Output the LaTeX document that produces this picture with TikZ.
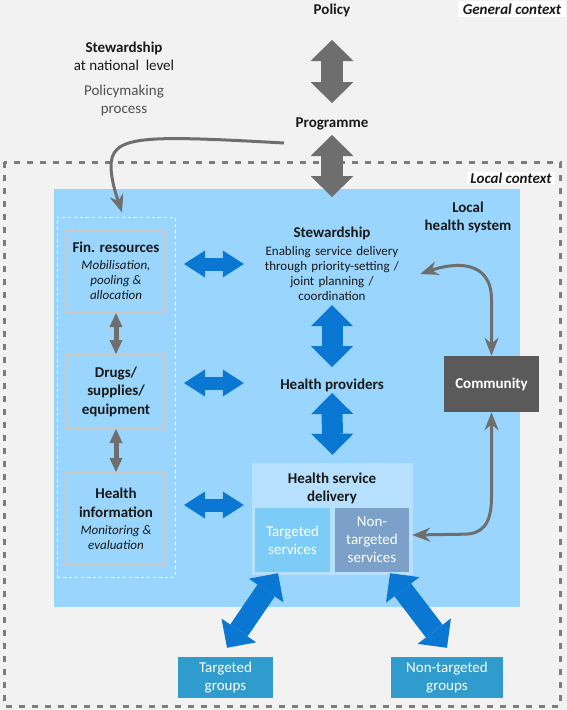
\documentclass[tikz,border=0pt]{standalone}
\usepackage{fontspec}
\setmainfont{Carlito}
\usetikzlibrary{arrows.meta,calc}
\definecolor{ctxgray}{RGB}{242,242,242}
\definecolor{dashgray}{RGB}{125,125,125}
\definecolor{txtdark}{RGB}{25,25,25}
\definecolor{txtgray}{RGB}{80,80,80}
\definecolor{lhsblue}{RGB}{153,213,252}
\definecolor{hsdblue}{RGB}{182,224,253}
\definecolor{tsblue}{RGB}{125,204,248}
\definecolor{ntsblue}{RGB}{124,160,200}
\definecolor{grpblue}{RGB}{48,156,206}
\definecolor{arrblue}{RGB}{10,120,210}
\definecolor{arrgray}{RGB}{110,110,110}
\definecolor{comgray}{RGB}{90,90,90}
\definecolor{boxedge}{RGB}{205,200,200}
\newcommand{\titlesize}{\fontsize{15}{18}\selectfont}
\newcommand{\bodysize}{\fontsize{13}{15}\selectfont}

\begin{document}
\begin{tikzpicture}[x=1pt,y=-1pt,
    lbl/.style={align=center, inner sep=0pt, text=txtdark, font=\titlesize},
    colbox/.style={draw=boxedge, line width=2pt, fill=lhsblue, minimum width=98pt, inner sep=0pt, align=center, text=txtdark, font=\bodysize},
    svcbox/.style={inner sep=0pt, align=center, text=white, font=\titlesize},
    fatgray/.style={draw=arrgray, line width=22pt, {Triangle[width=43pt,length=21pt,line width=0pt]}-{Triangle[width=43pt,length=21pt,line width=0pt]}},
    fatblue/.style={draw=arrblue, line width=21pt, {Triangle[width=42pt,length=21pt,line width=0pt]}-{Triangle[width=42pt,length=21pt,line width=0pt]}},
    sideblue/.style={draw=arrblue, line width=13pt, {Triangle[width=27pt,length=21pt,line width=0pt]}-{Triangle[width=27pt,length=21pt,line width=0pt]}},
    colgray/.style={draw=arrgray, line width=5pt, {Triangle[width=13pt,length=14pt,line width=0pt]}-{Triangle[width=13pt,length=14pt,line width=0pt]}},
    curvegray/.style={draw=arrgray, line width=3pt}]

    \fill[ctxgray] (0,0) rectangle (567,710);
    \useasboundingbox (0,0) rectangle (567,710);
    \draw[dashgray, line width=3pt, dash pattern=on 6pt off 7pt] (4,162) rectangle (560,706);

    \node[lbl, font=\titlesize\bfseries] (policy) at (332,10) {Policy};
    \node[lbl, font=\titlesize\bfseries\itshape, fill=white, inner xsep=5pt, inner ysep=3pt] (gencon) at (512,9) {General context};
    \node[lbl] (natstew) at (124,56) {{\bfseries Stewardship}\\ at national\ \ level};
    \node[lbl, text=txtgray] (polproc) at (124,100) {Policymaking\\ process};
    \node[lbl, font=\titlesize\bfseries] (programme) at (332,124) {Programme};
    \node[lbl, font=\titlesize\bfseries\itshape, fill=white, inner xsep=3pt, inner ysep=1pt] (loccon) at (511,178) {Local context};

    \node[fill=lhsblue, minimum width=466pt, minimum height=418pt] (lhs) at (287,398) {};
    \node[draw=white, dashed, line width=1pt, minimum width=118pt, minimum height=360pt] (lcol) at (116,397) {};
    \node[lbl, font=\titlesize\bfseries] (lhsname) at (468,217) {Local\\ health system};

    \node[colbox, minimum height=82pt] (fin) at (116,271) {{\titlesize\bfseries Fin. resources}\\[2pt] \textit{Mobilisation,}\\ \textit{pooling \&}\\ \textit{allocation}};
    \node[colbox, minimum height=73pt, font=\fontsize{15}{18.5}\selectfont\bfseries] (drugs) at (116,391.5) {Drugs/\\ supplies/\\ equipment};
    \node[colbox, minimum height=92pt] (info) at (116,519) {{\titlesize\bfseries Health}\\[4pt] {\titlesize\bfseries information}\\[2pt] \textit{Monitoring \&}\\ \textit{evaluation}};

    \node[lbl, font=\bodysize, text width=136pt] (stew) at (332,264) {{\titlesize\bfseries Stewardship}\\[3pt] Enabling service delivery\\ through priority-setting /\\ joint planning /\\ coordination};
    \node[lbl, font=\titlesize\bfseries] (providers) at (332,385) {Health providers};
    \node[svcbox, fill=comgray, font=\titlesize\bfseries, minimum width=95pt, minimum height=56pt] (community) at (491.5,384) {Community};

    \node[fill=hsdblue, minimum width=161pt, minimum height=112pt] (hsd) at (332.5,519) {};
    \node[lbl, font=\titlesize\bfseries] (hsdname) at (332,488) {Health service\\ delivery};
    \node[svcbox, fill=tsblue, minimum width=75pt, minimum height=64pt] (targ) at (292.5,540) {Targeted\\ services};
    \node[svcbox, fill=ntsblue, minimum width=74pt, minimum height=64pt] (nontarg) at (372,540) {Non-\\ targeted\\ services};

    \node[svcbox, fill=grpblue, minimum width=95pt, minimum height=41pt] (tgroups) at (225.5,677.5) {Targeted\\ groups};
    \node[svcbox, fill=grpblue, minimum width=112pt, minimum height=41pt] (ngroups) at (447,677.5) {Non-targeted\\ groups};

    \draw[fatgray] ($(policy)+(0,30)$) -- ($(programme)+(0,-21)$);
    \draw[fatgray] ($(programme)+(0,11)$) -- ($(stew)+(0,-67)$);
    \draw[fatblue] ($(stew)+(0,41)$) -- ($(providers)+(0,-18)$);
    \draw[fatblue] ($(providers)+(0,8)$) -- ($(hsd.north)+(0,-8)$);

    \draw[sideblue] ($(fin.east)+(18,-7)$) -- ($(fin.east -| hsd.west)+(-8,-7)$);
    \draw[sideblue] ($(drugs.east)+(18,-8.5)$) -- ($(drugs.east -| hsd.west)+(-8,-8.5)$);
    \draw[sideblue] ($(info.east)+(18,-14)$) -- ($(info.east -| hsd.west)+(-8,-14)$);
    \draw[colgray] (fin) -- (drugs);
    \draw[colgray] (drugs) -- (info);

    \draw[fatblue] ($(tgroups.north)+(1.5,-9)$) -- ($(targ.south)+(-14.5,1)$);
    \draw[fatblue] ($(nontarg.south)+(18,1)$) -- ($(ngroups.north)+(0,-9)$);

    \draw[curvegray, -{Stealth[width=14pt,length=18pt]}] ($(programme)+(-48,19)$) .. controls (140,135) and (110,135) .. (111,168) .. controls (112,185) and (118,200) .. ($(lcol.north)+(6,-4)$);
    \draw[curvegray, {Stealth[width=14pt,length=18pt]}-{Stealth[width=14pt,length=18pt]}] ($(stew.east)+(20,10)$) .. controls +(35,-12) and +(0,-40) .. ($(community.north)+(0,-56)$) -- (community.north);
    \draw[curvegray, {Stealth[width=14pt,length=18pt]}-{Stealth[width=14pt,length=18pt]}] (community.south) -- ++(0,85) .. controls +(0,28) and +(18,0) .. ++(-28,37) -- ($(nontarg.east)+(3,-5)$);

\end{tikzpicture}
\end{document}
